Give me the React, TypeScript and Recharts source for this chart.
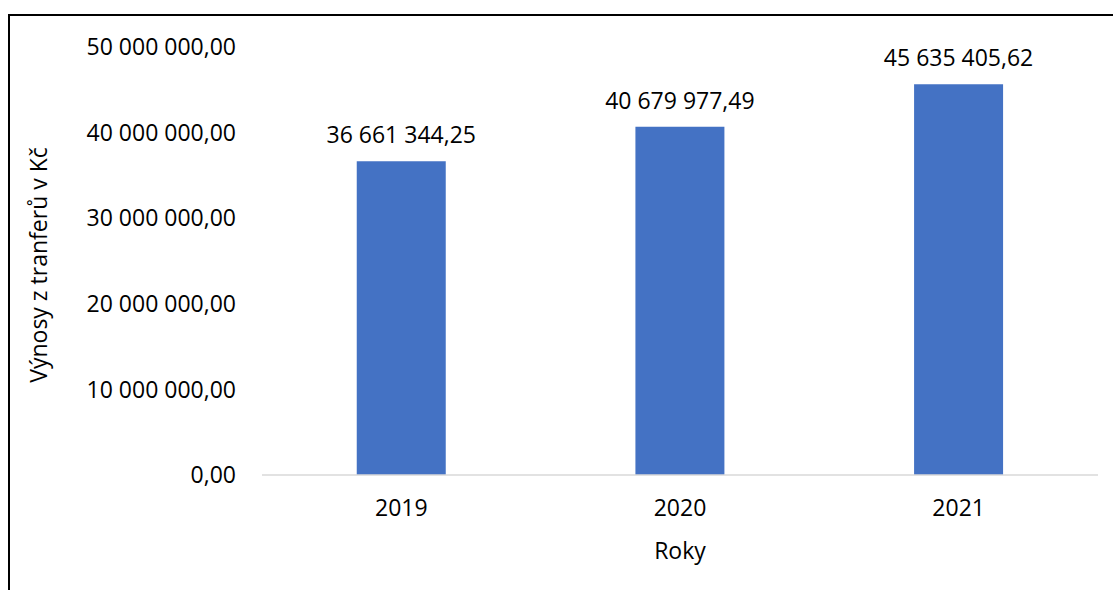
import React from 'react';
import { BarChart, Bar, XAxis, YAxis, LabelList, Label } from 'recharts';

const years = ['2019', '2020', '2021'];
const revenues = [36661344.25, 40679977.49, 45635405.62];
const yTicks = [0, 10000000, 20000000, 30000000, 40000000, 50000000];

const data = years.map((y, i) => ({ year: y, value: revenues[i] }));

const FONT = '"Open Sans", "Noto Sans", sans-serif';
const FS = 23;

const fmt = (v: number) => {
  const s = Number(v).toFixed(2);
  const [int, dec] = s.split('.');
  const grouped = int.replace(/\B(?=(\d{3})+(?!\d))/g, ' ');
  return `${grouped},${dec}`;
};

const YLabel = (props: any) => {
  const vb = props.viewBox || {};
  const cx = vb.x + 38;
  const cy = vb.y + vb.height / 2 + 4;
  return (
    <text
      x={cx}
      y={cy}
      transform={`rotate(-90, ${cx}, ${cy})`}
      textAnchor="middle"
      dominantBaseline="central"
      fontFamily={FONT}
      fontSize={FS}
      fill="#000"
    >
      Výnosy z tranferů v Kč
    </text>
  );
};

const ValueLabel = (props: any) => {
  const { x, y, width, value } = props;
  return (
    <text
      x={Number(x) + Number(width) / 2}
      y={Number(y) - 18}
      textAnchor="middle"
      fontFamily={FONT}
      fontSize={FS}
      fill="#000"
    >
      {fmt(value)}
    </text>
  );
};

export default function App() {
  return (
    <div style={{ position: 'absolute', left: 0, top: 0, width: 1113, height: 590, background: '#fff', overflow: 'hidden' }}>
      <div
        style={{
          position: 'absolute',
          left: 8,
          top: 14,
          width: 1200,
          height: 700,
          borderTop: '2px solid #000',
          borderLeft: '2px solid #000',
        }}
      />
      <div style={{ position: 'absolute', left: 0, top: 0 }}>
        <BarChart
          width={1113}
          height={590}
          data={data}
          margin={{ top: 47, right: 15, bottom: 0, left: 0 }}
          barCategoryGap="34%"
        >
          <XAxis
            dataKey="year"
            height={115}
            tickLine={false}
            tickSize={0}
            tickMargin={25}
            axisLine={{ stroke: '#d9d9d9', strokeWidth: 1.5 }}
            tick={{ fill: '#000', fontSize: FS, fontFamily: FONT }}
          >
            <Label value="Roky" position="insideBottom" offset={31} fill="#000" fontSize={FS} fontFamily={FONT} />
          </XAxis>
          <YAxis
            width={262}
            domain={[0, 50000000]}
            ticks={yTicks}
            tickFormatter={fmt}
            axisLine={false}
            tickLine={false}
            tickSize={0}
            tickMargin={26}
            tick={{ fill: '#000', fontSize: FS, fontFamily: FONT }}
            label={<YLabel />}
          />
          <Bar dataKey="value" fill="#4472C4" isAnimationActive={false}>
            <LabelList dataKey="value" content={<ValueLabel />} />
          </Bar>
        </BarChart>
      </div>
    </div>
  );
}
